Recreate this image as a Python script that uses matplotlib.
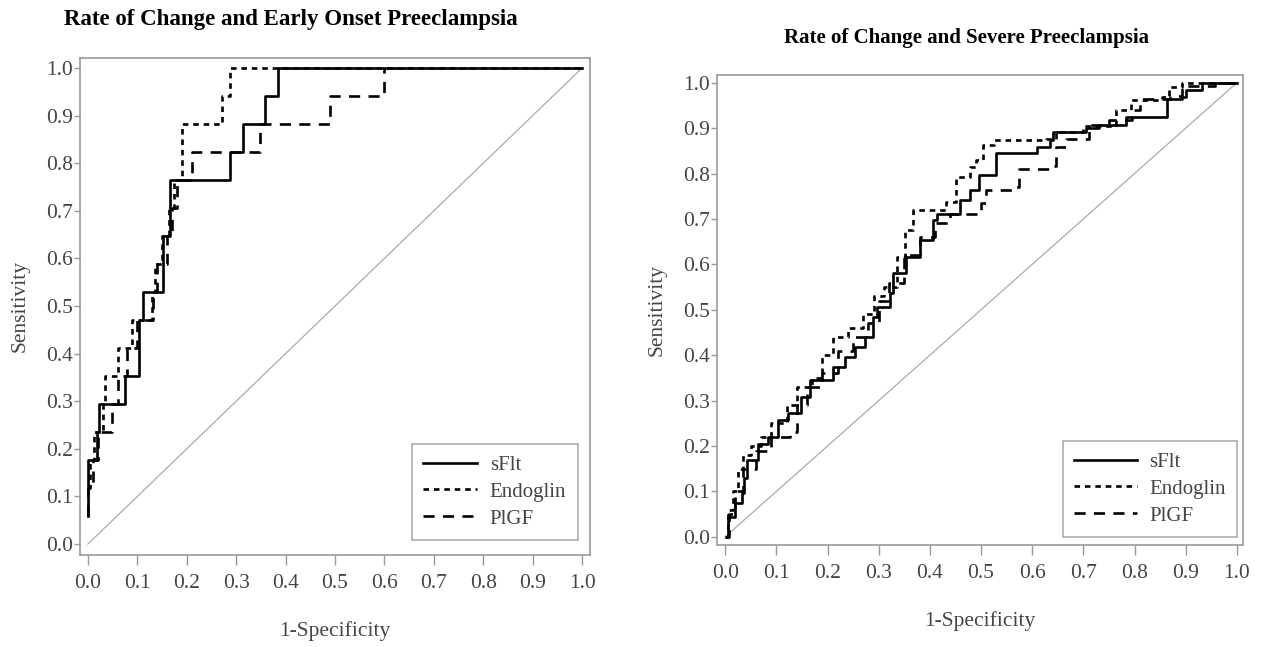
import matplotlib
matplotlib.use('Agg')
import matplotlib.pyplot as plt
import numpy as np

plt.rcParams['font.family'] = ['Liberation Serif', 'DejaVu Serif']
plt.rcParams['lines.scale_dashes'] = False

# --------- ROC data (1-specificity, sensitivity) -------------

early_title = 'Rate of Change and Early Onset Preeclampsia'
severe_title = 'Rate of Change and Severe Preeclampsia'
series_names = ['sFlt', 'Endoglin', 'PlGF']
tick_values = [0.0, 0.1, 0.2, 0.3, 0.4, 0.5, 0.6, 0.7, 0.8, 0.9, 1.0]

early_sflt_x = [0, 0, 0.018, 0.022, 0.075, 0.104, 0.112, 0.152, 0.167, 0.287, 0.314, 0.358, 0.385, 1.0]
early_sflt_y = [0.059, 0.176, 0.235, 0.294, 0.353, 0.471, 0.529, 0.647, 0.765, 0.824, 0.882, 0.941, 1.0, 1.0]

early_endo_x = [0, 0.005, 0.012, 0.03, 0.035, 0.06, 0.09, 0.13, 0.135, 0.15, 0.165, 0.175, 0.19, 0.272, 0.287, 1.0]
early_endo_y = [0.118, 0.176, 0.235, 0.294, 0.353, 0.412, 0.471, 0.529, 0.588, 0.647, 0.706, 0.765, 0.882, 0.941, 1.0, 1.0]

early_plgf_x = [0, 0, 0.01, 0.02, 0.048, 0.06, 0.08, 0.1, 0.132, 0.14, 0.16, 0.17, 0.18, 0.21, 0.348, 0.49, 0.6]
early_plgf_y = [0.059, 0.118, 0.176, 0.235, 0.294, 0.353, 0.412, 0.471, 0.529, 0.588, 0.647, 0.706, 0.765, 0.824, 0.882, 0.941, 1.0]

severe_sflt_x = [0.003, 0.006, 0.019, 0.032, 0.036, 0.042, 0.065, 0.084, 0.104, 0.123, 0.149, 0.166, 0.211,
                 0.234, 0.253, 0.273, 0.289, 0.296, 0.322, 0.328, 0.354, 0.38, 0.406, 0.413, 0.458, 0.478,
                 0.497, 0.529, 0.61, 0.634, 0.64, 0.705, 0.731, 0.783, 0.864, 0.893, 0.9, 0.932, 1.0]
severe_sflt_y = [0.0, 0.044, 0.074, 0.096, 0.13, 0.169, 0.205, 0.22, 0.257, 0.272, 0.308, 0.345, 0.374,
                 0.397, 0.418, 0.44, 0.485, 0.507, 0.536, 0.58, 0.617, 0.654, 0.698, 0.712, 0.742, 0.764,
                 0.797, 0.845, 0.859, 0.874, 0.892, 0.9, 0.907, 0.925, 0.965, 0.969, 0.984, 1.0, 1.0]

severe_endo_x = [0, 0.005, 0.015, 0.025, 0.035, 0.05, 0.07, 0.09, 0.12, 0.14, 0.17, 0.19, 0.21, 0.24, 0.27,
                 0.29, 0.31, 0.335, 0.351, 0.367, 0.432, 0.452, 0.478, 0.491, 0.504, 0.526, 0.627, 0.647,
                 0.70, 0.763, 0.793, 0.854, 0.867, 0.893, 1.0]
severe_endo_y = [0.0, 0.06, 0.1, 0.15, 0.18, 0.2, 0.22, 0.25, 0.29, 0.33, 0.35, 0.4, 0.44, 0.46, 0.49,
                 0.53, 0.551, 0.617, 0.676, 0.72, 0.738, 0.793, 0.815, 0.83, 0.863, 0.874, 0.875, 0.892,
                 0.905, 0.94, 0.962, 0.969, 0.991, 1.0, 1.0]

severe_plgf_x = [0, 0.008, 0.02, 0.035, 0.06, 0.09, 0.127, 0.14, 0.16, 0.19, 0.22, 0.25, 0.28, 0.3, 0.32,
                 0.35, 0.38, 0.41, 0.44, 0.5, 0.51, 0.562, 0.575, 0.634, 0.647, 0.666, 0.712, 0.751, 0.796,
                 0.81, 0.87, 0.893, 0.957, 1.0]
severe_plgf_y = [0.0, 0.05, 0.1, 0.15, 0.19, 0.22, 0.23, 0.29, 0.33, 0.36, 0.41, 0.44, 0.47, 0.52, 0.56,
                 0.62, 0.66, 0.69, 0.712, 0.735, 0.763, 0.771, 0.811, 0.816, 0.859, 0.875, 0.907, 0.918, 0.94,
                 0.965, 0.97, 0.993, 1.0, 1.0]

W, H = 1267, 647
fig = plt.figure(figsize=(W / 100, H / 100), dpi=100)

grey = '#454545'
spine_grey = '#9a9a9a'
styles = [dict(linestyle='-'),
          dict(linestyle=(0, (4, 3.5))),
          dict(linestyle=(0, (8, 6)))]


def px_box(x0, y0, x1, y1):
	return [x0 / W, 1 - y1 / H, (x1 - x0) / W, (y1 - y0) / H]


def draw_roc(ax, curves, xlim, ylim, leg_anchor, leg_handle):
	ax.plot([0, 1], [0, 1], color='#aaaaaa', lw=0.9, zorder=1)
	handles = []
	for (x, y), st, name in zip(curves, styles, series_names):
		h, = ax.plot(x, y, color='black', lw=1.9, drawstyle='steps-post', label=name, zorder=2, **st)
		handles.append(h)
	ax.set_xlim(*xlim)
	ax.set_ylim(*ylim)
	ax.set_xticks(tick_values)
	ax.set_yticks(tick_values)
	ax.set_xticklabels(['%.1f' % v for v in tick_values])
	ax.set_yticklabels(['%.1f' % v for v in tick_values])
	ax.tick_params(direction='out', width=1, colors=spine_grey, labelcolor=grey, labelsize=15.5)
	ax.tick_params(axis='x', length=7, pad=7)
	ax.tick_params(axis='y', length=4, pad=1)
	for s in ax.spines.values():
		s.set_color(spine_grey)
		s.set_linewidth(1.2)
	ax.set_xlabel('1-Specificity', fontsize=15.5, color=grey, labelpad=20)
	ax.set_ylabel('Sensitivity', fontsize=15.5, color=grey, labelpad=12)
	leg = ax.legend(handles=handles, loc='lower right', bbox_to_anchor=leg_anchor, fontsize=15,
	                frameon=True, fancybox=False, edgecolor=spine_grey, handlelength=leg_handle,
	                borderpad=0.55, labelspacing=0.35, handletextpad=0.6, borderaxespad=0.0)
	leg.get_frame().set_linewidth(1.2)
	for t in leg.get_texts():
		t.set_color(grey)


ax1 = fig.add_axes(px_box(80, 58, 590, 555))
draw_roc(ax1, [(early_sflt_x, early_sflt_y), (early_endo_x, early_endo_y), (early_plgf_x, early_plgf_y)],
         (-0.016, 1.016), (-0.023, 1.021), (0.976, 0.030), 2.6)

ax2 = fig.add_axes(px_box(717, 75, 1243, 545))
draw_roc(ax2, [(severe_sflt_x, severe_sflt_y), (severe_endo_x, severe_endo_y), (severe_plgf_x, severe_plgf_y)],
         (-0.016, 1.012), (-0.018, 1.017), (0.989, 0.017), 3.0)

fig.text(291 / W, 1 - 20 / H, early_title, ha='center', va='center', fontsize=16.5, fontweight='bold')
fig.text(966 / W, 1 - 38 / H, severe_title, ha='center', va='center', fontsize=15, fontweight='bold')

fig.savefig('out.png', dpi=100)
